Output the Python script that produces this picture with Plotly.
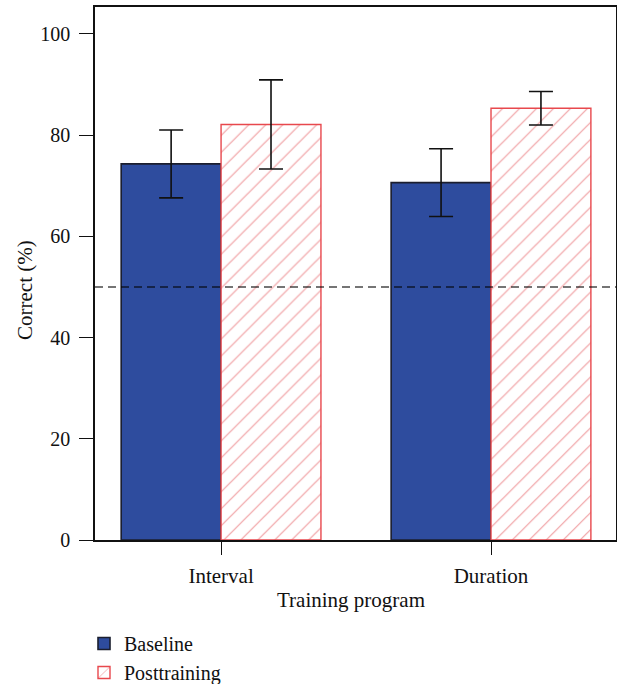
import plotly.graph_objects as go

# Mean percent correct per training program, with error-bar half-widths
programs = ["Interval", "Duration"]
baseline = [74.3, 70.6]
baseline_err = [6.7, 6.7]
posttraining = [82.1, 85.3]
posttraining_err = [8.8, 3.3]
chance_level = 50
y_ticks = [0, 20, 40, 60, 80, 100]

SERIF = "Liberation Serif"
FONT_SIZE = 21
INK = "#111111"

W, H = 617, 684
M_L, M_R, M_T, M_B = 95, 1, 7, 144
PLOT_W = W - M_L - M_R
PLOT_H = H - M_T - M_B


def px_to_paper(px, py):
    """Convert page pixel position to paper coordinates."""
    return (px - M_L) / PLOT_W, (H - M_B - py) / PLOT_H


fig = go.Figure()

fig.add_trace(go.Bar(
    name="Baseline",
    x=programs,
    y=baseline,
    marker=dict(color="#2E4C9E", line=dict(color="#1B1E2E", width=1.6)),
    error_y=dict(type="data", array=baseline_err, visible=True,
                 color=INK, thickness=1.6, width=12),
))

fig.add_trace(go.Bar(
    name="Posttraining",
    x=programs,
    y=posttraining,
    marker=dict(
        color="white",
        line=dict(color="#E8484D", width=1.4),
        pattern=dict(shape="/", fgcolor="#E03E44", bgcolor="white",
                     size=12, solidity=0.1),
    ),
    error_y=dict(type="data", array=posttraining_err, visible=True,
                 color=INK, thickness=1.6, width=12),
))

# chance-level reference line
fig.add_shape(type="line", xref="paper", x0=0, x1=1, yref="y",
              y0=chance_level, y1=chance_level, layer="above",
              line=dict(color="rgba(0,0,0,0.72)", width=1.5, dash="8px,5px"))

# axis titles
tx, ty = px_to_paper(351, 600)
fig.add_annotation(text="Training program", xref="paper", yref="paper",
                   x=tx, y=ty, xanchor="center", yanchor="middle",
                   showarrow=False, font=dict(family=SERIF, size=FONT_SIZE, color=INK))
tx, ty = px_to_paper(25, 290)
fig.add_annotation(text="Correct (%)", xref="paper", yref="paper",
                   x=tx, y=ty, xanchor="center", yanchor="middle",
                   textangle=-90, showarrow=False,
                   font=dict(family=SERIF, size=FONT_SIZE, color=INK))

fig.update_layout(
    width=W, height=H,
    margin=dict(l=M_L, r=M_R, t=M_T, b=M_B, autoexpand=False),
    paper_bgcolor="white", plot_bgcolor="white",
    barmode="group", bargap=0.26, bargroupgap=0,
    font=dict(family=SERIF, size=FONT_SIZE, color=INK),
    showlegend=True,
    legend=dict(
        xref="container", yref="container",
        x=84 / W, xanchor="left",
        y=1 - 624 / H, yanchor="top",
        orientation="v", traceorder="normal",
        font=dict(family=SERIF, size=20),
        bgcolor="rgba(0,0,0,0)", tracegroupgap=0,
    ),
    xaxis=dict(
        range=[-0.467, 1.463],
        showline=True, linecolor=INK, linewidth=1.5, mirror=True,
        ticks="outside", ticklen=13, tickwidth=1.3, tickcolor=INK,
        ticklabelstandoff=3,
        showgrid=False, zeroline=False,
    ),
    yaxis=dict(
        range=[0, 105.3],
        tickvals=y_ticks,
        tickfont=dict(family=SERIF, size=20),
        showline=True, linecolor=INK, linewidth=1.5, mirror=True,
        ticks="outside", ticklen=14, tickwidth=1.3, tickcolor=INK,
        ticklabelstandoff=5,
        showgrid=False, zeroline=False,
    ),
)

fig.write_html("out.html")
